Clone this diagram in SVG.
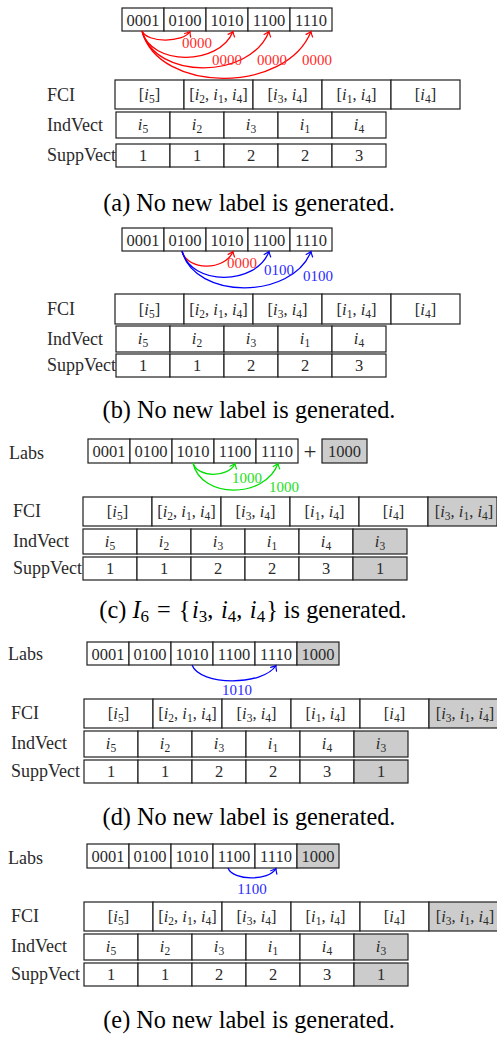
<svg xmlns="http://www.w3.org/2000/svg" width="497" height="1037" viewBox="0 0 497 1037">
<style>
  .cell { fill: #ffffff; stroke: #1e1e1e; stroke-width: 1.2; }
  .new { fill: #cccccc; }
  .t { font-family: "Liberation Serif", serif; font-size: 16.5px; fill: #2a2a2a; text-anchor: middle; }
  .plus { font-size: 23px; }
  .rl { font-family: "Liberation Serif", serif; font-size: 18px; fill: #2a2a2a; }
  .m { font-style: italic; }
  .s { font-size: 11.5px; }
  .cs { font-size: 17px; }
  .cap { font-family: "Liberation Serif", serif; font-size: 24.3px; fill: #000000; text-anchor: middle; }
  .arr { fill: none; stroke-width: 1.3; }
  .lab { font-family: "Liberation Serif", serif; font-size: 15px; text-anchor: middle; }
</style>
<defs>
  <marker id="ah-red" markerWidth="12" markerHeight="12" refX="0" refY="0" orient="auto" markerUnits="userSpaceOnUse" overflow="visible">
    <path d="M-4.5,-3.5 Q-1.5,-0.8 0,0 Q-1.5,0.8 -4.5,3.5" fill="none" stroke="#ff0000" stroke-width="1.2" stroke-linecap="round"/>
  </marker>
  <marker id="ah-blue" markerWidth="12" markerHeight="12" refX="0" refY="0" orient="auto" markerUnits="userSpaceOnUse" overflow="visible">
    <path d="M-4.5,-3.5 Q-1.5,-0.8 0,0 Q-1.5,0.8 -4.5,3.5" fill="none" stroke="#0000ff" stroke-width="1.2" stroke-linecap="round"/>
  </marker>
  <marker id="ah-green" markerWidth="12" markerHeight="12" refX="0" refY="0" orient="auto" markerUnits="userSpaceOnUse" overflow="visible">
    <path d="M-4.5,-3.5 Q-1.5,-0.8 0,0 Q-1.5,0.8 -4.5,3.5" fill="none" stroke="#00e000" stroke-width="1.2" stroke-linecap="round"/>
  </marker>
</defs>

<!-- ===== panel (a) ===== -->
<g id="panel-a">
  <g id="a-labs">
    <rect class="cell" x="122" y="8" width="42" height="23"/>
    <rect class="cell" x="164" y="8" width="42" height="23"/>
    <rect class="cell" x="206" y="8" width="42" height="23"/>
    <rect class="cell" x="248" y="8" width="42" height="23"/>
    <rect class="cell" x="290" y="8" width="42" height="23"/>
    <text class="t" x="143" y="25.5">0001</text>
    <text class="t" x="185" y="25.5">0100</text>
    <text class="t" x="227" y="25.5">1010</text>
    <text class="t" x="269" y="25.5">1100</text>
    <text class="t" x="311" y="25.5">1110</text>
  </g>
  <g id="a-fci">
    <text class="rl" x="47" y="101">FCI</text>
    <rect class="cell" x="115" y="80" width="69" height="29"/>
    <rect class="cell" x="184" y="80" width="69" height="29"/>
    <rect class="cell" x="253" y="80" width="69" height="29"/>
    <rect class="cell" x="322" y="80" width="69" height="29"/>
    <rect class="cell" x="391" y="80" width="69" height="29"/>
    <text class="t" x="149.5" y="100">[<tspan class="m">i</tspan><tspan class="s" dy="3">5</tspan><tspan dy="-3">]</tspan></text>
    <text class="t" x="218.5" y="100">[<tspan class="m">i</tspan><tspan class="s" dy="3">2</tspan><tspan dy="-3">, </tspan><tspan class="m">i</tspan><tspan class="s" dy="3">1</tspan><tspan dy="-3">, </tspan><tspan class="m">i</tspan><tspan class="s" dy="3">4</tspan><tspan dy="-3">]</tspan></text>
    <text class="t" x="287.5" y="100">[<tspan class="m">i</tspan><tspan class="s" dy="3">3</tspan><tspan dy="-3">, </tspan><tspan class="m">i</tspan><tspan class="s" dy="3">4</tspan><tspan dy="-3">]</tspan></text>
    <text class="t" x="356.5" y="100">[<tspan class="m">i</tspan><tspan class="s" dy="3">1</tspan><tspan dy="-3">, </tspan><tspan class="m">i</tspan><tspan class="s" dy="3">4</tspan><tspan dy="-3">]</tspan></text>
    <text class="t" x="425.5" y="100">[<tspan class="m">i</tspan><tspan class="s" dy="3">4</tspan><tspan dy="-3">]</tspan></text>
  </g>
  <g id="a-indvect">
    <text class="rl" x="47" y="131">IndVect</text>
    <rect class="cell" x="116" y="112" width="54" height="26"/>
    <rect class="cell" x="170" y="112" width="54" height="26"/>
    <rect class="cell" x="224" y="112" width="54" height="26"/>
    <rect class="cell" x="278" y="112" width="54" height="26"/>
    <rect class="cell" x="332" y="112" width="54" height="26"/>
    <text class="t" x="143" y="130"><tspan class="m">i</tspan><tspan class="s" dy="3">5</tspan></text>
    <text class="t" x="197" y="130"><tspan class="m">i</tspan><tspan class="s" dy="3">2</tspan></text>
    <text class="t" x="251" y="130"><tspan class="m">i</tspan><tspan class="s" dy="3">3</tspan></text>
    <text class="t" x="305" y="130"><tspan class="m">i</tspan><tspan class="s" dy="3">1</tspan></text>
    <text class="t" x="359" y="130"><tspan class="m">i</tspan><tspan class="s" dy="3">4</tspan></text>
  </g>
  <g id="a-suppvect">
    <text class="rl" x="47" y="161">SuppVect</text>
    <rect class="cell" x="116" y="144" width="54" height="23"/>
    <rect class="cell" x="170" y="144" width="54" height="23"/>
    <rect class="cell" x="224" y="144" width="54" height="23"/>
    <rect class="cell" x="278" y="144" width="54" height="23"/>
    <rect class="cell" x="332" y="144" width="54" height="23"/>
    <text class="t" x="143" y="161">1</text>
    <text class="t" x="197" y="161">1</text>
    <text class="t" x="251" y="161">2</text>
    <text class="t" x="305" y="161">2</text>
    <text class="t" x="359" y="161">3</text>
  </g>
  <text id="a-caption" class="cap" x="249" y="211">(a) No new label is generated.</text>
</g>

<!-- ===== panel (b) ===== -->
<g id="panel-b">
  <g id="b-labs">
    <rect class="cell" x="122" y="228" width="42" height="23"/>
    <rect class="cell" x="164" y="228" width="42" height="23"/>
    <rect class="cell" x="206" y="228" width="42" height="23"/>
    <rect class="cell" x="248" y="228" width="42" height="23"/>
    <rect class="cell" x="290" y="228" width="42" height="23"/>
    <text class="t" x="143" y="245.5">0001</text>
    <text class="t" x="185" y="245.5">0100</text>
    <text class="t" x="227" y="245.5">1010</text>
    <text class="t" x="269" y="245.5">1100</text>
    <text class="t" x="311" y="245.5">1110</text>
  </g>
  <g id="b-fci">
    <text class="rl" x="47" y="315">FCI</text>
    <rect class="cell" x="115" y="294" width="69" height="30"/>
    <rect class="cell" x="184" y="294" width="69" height="30"/>
    <rect class="cell" x="253" y="294" width="69" height="30"/>
    <rect class="cell" x="322" y="294" width="69" height="30"/>
    <rect class="cell" x="391" y="294" width="69" height="30"/>
    <text class="t" x="149.5" y="314.5">[<tspan class="m">i</tspan><tspan class="s" dy="3">5</tspan><tspan dy="-3">]</tspan></text>
    <text class="t" x="218.5" y="314.5">[<tspan class="m">i</tspan><tspan class="s" dy="3">2</tspan><tspan dy="-3">, </tspan><tspan class="m">i</tspan><tspan class="s" dy="3">1</tspan><tspan dy="-3">, </tspan><tspan class="m">i</tspan><tspan class="s" dy="3">4</tspan><tspan dy="-3">]</tspan></text>
    <text class="t" x="287.5" y="314.5">[<tspan class="m">i</tspan><tspan class="s" dy="3">3</tspan><tspan dy="-3">, </tspan><tspan class="m">i</tspan><tspan class="s" dy="3">4</tspan><tspan dy="-3">]</tspan></text>
    <text class="t" x="356.5" y="314.5">[<tspan class="m">i</tspan><tspan class="s" dy="3">1</tspan><tspan dy="-3">, </tspan><tspan class="m">i</tspan><tspan class="s" dy="3">4</tspan><tspan dy="-3">]</tspan></text>
    <text class="t" x="425.5" y="314.5">[<tspan class="m">i</tspan><tspan class="s" dy="3">4</tspan><tspan dy="-3">]</tspan></text>
  </g>
  <g id="b-indvect">
    <text class="rl" x="47" y="345">IndVect</text>
    <rect class="cell" x="116" y="326" width="54" height="26"/>
    <rect class="cell" x="170" y="326" width="54" height="26"/>
    <rect class="cell" x="224" y="326" width="54" height="26"/>
    <rect class="cell" x="278" y="326" width="54" height="26"/>
    <rect class="cell" x="332" y="326" width="54" height="26"/>
    <text class="t" x="143" y="344"><tspan class="m">i</tspan><tspan class="s" dy="3">5</tspan></text>
    <text class="t" x="197" y="344"><tspan class="m">i</tspan><tspan class="s" dy="3">2</tspan></text>
    <text class="t" x="251" y="344"><tspan class="m">i</tspan><tspan class="s" dy="3">3</tspan></text>
    <text class="t" x="305" y="344"><tspan class="m">i</tspan><tspan class="s" dy="3">1</tspan></text>
    <text class="t" x="359" y="344"><tspan class="m">i</tspan><tspan class="s" dy="3">4</tspan></text>
  </g>
  <g id="b-suppvect">
    <text class="rl" x="47" y="371">SuppVect</text>
    <rect class="cell" x="116" y="354" width="54" height="23"/>
    <rect class="cell" x="170" y="354" width="54" height="23"/>
    <rect class="cell" x="224" y="354" width="54" height="23"/>
    <rect class="cell" x="278" y="354" width="54" height="23"/>
    <rect class="cell" x="332" y="354" width="54" height="23"/>
    <text class="t" x="143" y="371">1</text>
    <text class="t" x="197" y="371">1</text>
    <text class="t" x="251" y="371">2</text>
    <text class="t" x="305" y="371">2</text>
    <text class="t" x="359" y="371">3</text>
  </g>
  <text id="b-caption" class="cap" x="249" y="418">(b) No new label is generated.</text>
</g>

<!-- ===== panel (c) ===== -->
<g id="panel-c">
  <g id="c-labs">
    <text class="rl" x="9" y="459">Labs</text>
    <rect class="cell" x="88" y="439" width="42" height="24"/>
    <rect class="cell" x="130" y="439" width="42" height="24"/>
    <rect class="cell" x="172" y="439" width="42" height="24"/>
    <rect class="cell" x="214" y="439" width="42" height="24"/>
    <rect class="cell" x="256" y="439" width="42" height="24"/>
    <text class="t" x="109" y="457">0001</text>
    <text class="t" x="151" y="457">0100</text>
    <text class="t" x="193" y="457">1010</text>
    <text class="t" x="235" y="457">1100</text>
    <text class="t" x="277" y="457">1110</text>
    <text class="t plus" x="310" y="459">+</text>
    <rect class="cell new" x="322" y="439" width="45" height="24"/>
    <text class="t" x="344.5" y="457">1000</text>
  </g>
  <g id="c-fci">
    <text class="rl" x="13" y="517">FCI</text>
    <rect class="cell" x="83" y="497" width="69" height="29"/>
    <rect class="cell" x="152" y="497" width="69" height="29"/>
    <rect class="cell" x="221" y="497" width="69" height="29"/>
    <rect class="cell" x="290" y="497" width="69" height="29"/>
    <rect class="cell" x="359" y="497" width="69" height="29"/>
    <rect class="cell new" x="428" y="497" width="69" height="29"/>
    <text class="t" x="117.5" y="517">[<tspan class="m">i</tspan><tspan class="s" dy="3">5</tspan><tspan dy="-3">]</tspan></text>
    <text class="t" x="186.5" y="517">[<tspan class="m">i</tspan><tspan class="s" dy="3">2</tspan><tspan dy="-3">, </tspan><tspan class="m">i</tspan><tspan class="s" dy="3">1</tspan><tspan dy="-3">, </tspan><tspan class="m">i</tspan><tspan class="s" dy="3">4</tspan><tspan dy="-3">]</tspan></text>
    <text class="t" x="255.5" y="517">[<tspan class="m">i</tspan><tspan class="s" dy="3">3</tspan><tspan dy="-3">, </tspan><tspan class="m">i</tspan><tspan class="s" dy="3">4</tspan><tspan dy="-3">]</tspan></text>
    <text class="t" x="324.5" y="517">[<tspan class="m">i</tspan><tspan class="s" dy="3">1</tspan><tspan dy="-3">, </tspan><tspan class="m">i</tspan><tspan class="s" dy="3">4</tspan><tspan dy="-3">]</tspan></text>
    <text class="t" x="393.5" y="517">[<tspan class="m">i</tspan><tspan class="s" dy="3">4</tspan><tspan dy="-3">]</tspan></text>
    <text class="t" x="464" y="517">[<tspan class="m">i</tspan><tspan class="s" dy="3">3</tspan><tspan dy="-3">, </tspan><tspan class="m">i</tspan><tspan class="s" dy="3">1</tspan><tspan dy="-3">, </tspan><tspan class="m">i</tspan><tspan class="s" dy="3">4</tspan><tspan dy="-3">]</tspan></text>
  </g>
  <g id="c-indvect">
    <text class="rl" x="13" y="547">IndVect</text>
    <rect class="cell" x="83" y="529" width="54" height="25"/>
    <rect class="cell" x="137" y="529" width="54" height="25"/>
    <rect class="cell" x="191" y="529" width="54" height="25"/>
    <rect class="cell" x="245" y="529" width="54" height="25"/>
    <rect class="cell" x="299" y="529" width="54" height="25"/>
    <rect class="cell new" x="353" y="529" width="54" height="25"/>
    <text class="t" x="110" y="546.5"><tspan class="m">i</tspan><tspan class="s" dy="3">5</tspan></text>
    <text class="t" x="164" y="546.5"><tspan class="m">i</tspan><tspan class="s" dy="3">2</tspan></text>
    <text class="t" x="218" y="546.5"><tspan class="m">i</tspan><tspan class="s" dy="3">3</tspan></text>
    <text class="t" x="272" y="546.5"><tspan class="m">i</tspan><tspan class="s" dy="3">1</tspan></text>
    <text class="t" x="326" y="546.5"><tspan class="m">i</tspan><tspan class="s" dy="3">4</tspan></text>
    <text class="t" x="380" y="546.5"><tspan class="m">i</tspan><tspan class="s" dy="3">3</tspan></text>
  </g>
  <g id="c-suppvect">
    <text class="rl" x="13" y="574">SuppVect</text>
    <rect class="cell" x="83" y="557" width="54" height="23"/>
    <rect class="cell" x="137" y="557" width="54" height="23"/>
    <rect class="cell" x="191" y="557" width="54" height="23"/>
    <rect class="cell" x="245" y="557" width="54" height="23"/>
    <rect class="cell" x="299" y="557" width="54" height="23"/>
    <rect class="cell new" x="353" y="557" width="54" height="23"/>
    <text class="t" x="110" y="574">1</text>
    <text class="t" x="164" y="574">1</text>
    <text class="t" x="218" y="574">2</text>
    <text class="t" x="272" y="574">2</text>
    <text class="t" x="326" y="574">3</text>
    <text class="t" x="380" y="574">1</text>
  </g>
  <text id="c-caption" class="cap" x="253" y="618">(c) <tspan class="m">I</tspan><tspan class="cs" dy="4">6</tspan><tspan dy="-4" dx="2"> = </tspan><tspan dx="2">{</tspan><tspan class="m" dx="1.5">i</tspan><tspan class="cs" dy="4">3</tspan><tspan dy="-4">, </tspan><tspan class="m" dx="1.5">i</tspan><tspan class="cs" dy="4">4</tspan><tspan dy="-4">, </tspan><tspan class="m" dx="1.5">i</tspan><tspan class="cs" dy="4">4</tspan><tspan dy="-4" dx="1">} is generated.</tspan></text>
</g>

<!-- ===== panel (d) ===== -->
<g id="panel-d">
  <g id="d-labs">
    <text class="rl" x="8" y="660">Labs</text>
    <rect class="cell" x="87" y="642" width="42" height="23"/>
    <rect class="cell" x="129" y="642" width="42" height="23"/>
    <rect class="cell" x="171" y="642" width="42" height="23"/>
    <rect class="cell" x="213" y="642" width="42" height="23"/>
    <rect class="cell" x="255" y="642" width="42" height="23"/>
    <rect class="cell new" x="297" y="642" width="42" height="23"/>
    <text class="t" x="108" y="659.5">0001</text>
    <text class="t" x="150" y="659.5">0100</text>
    <text class="t" x="192" y="659.5">1010</text>
    <text class="t" x="234" y="659.5">1100</text>
    <text class="t" x="276" y="659.5">1110</text>
    <text class="t" x="318" y="659.5">1000</text>
  </g>
  <g id="d-fci">
    <text class="rl" x="11" y="719">FCI</text>
    <rect class="cell" x="84" y="699" width="69" height="29"/>
    <rect class="cell" x="153" y="699" width="69" height="29"/>
    <rect class="cell" x="222" y="699" width="69" height="29"/>
    <rect class="cell" x="291" y="699" width="69" height="29"/>
    <rect class="cell" x="360" y="699" width="69" height="29"/>
    <rect class="cell new" x="429" y="699" width="69" height="29"/>
    <text class="t" x="118.5" y="719">[<tspan class="m">i</tspan><tspan class="s" dy="3">5</tspan><tspan dy="-3">]</tspan></text>
    <text class="t" x="187.5" y="719">[<tspan class="m">i</tspan><tspan class="s" dy="3">2</tspan><tspan dy="-3">, </tspan><tspan class="m">i</tspan><tspan class="s" dy="3">1</tspan><tspan dy="-3">, </tspan><tspan class="m">i</tspan><tspan class="s" dy="3">4</tspan><tspan dy="-3">]</tspan></text>
    <text class="t" x="256.5" y="719">[<tspan class="m">i</tspan><tspan class="s" dy="3">3</tspan><tspan dy="-3">, </tspan><tspan class="m">i</tspan><tspan class="s" dy="3">4</tspan><tspan dy="-3">]</tspan></text>
    <text class="t" x="325.5" y="719">[<tspan class="m">i</tspan><tspan class="s" dy="3">1</tspan><tspan dy="-3">, </tspan><tspan class="m">i</tspan><tspan class="s" dy="3">4</tspan><tspan dy="-3">]</tspan></text>
    <text class="t" x="394.5" y="719">[<tspan class="m">i</tspan><tspan class="s" dy="3">4</tspan><tspan dy="-3">]</tspan></text>
    <text class="t" x="465" y="719">[<tspan class="m">i</tspan><tspan class="s" dy="3">3</tspan><tspan dy="-3">, </tspan><tspan class="m">i</tspan><tspan class="s" dy="3">1</tspan><tspan dy="-3">, </tspan><tspan class="m">i</tspan><tspan class="s" dy="3">4</tspan><tspan dy="-3">]</tspan></text>
  </g>
  <g id="d-indvect">
    <text class="rl" x="11" y="749">IndVect</text>
    <rect class="cell" x="84" y="731" width="54" height="26"/>
    <rect class="cell" x="138" y="731" width="54" height="26"/>
    <rect class="cell" x="192" y="731" width="54" height="26"/>
    <rect class="cell" x="246" y="731" width="54" height="26"/>
    <rect class="cell" x="300" y="731" width="54" height="26"/>
    <rect class="cell new" x="354" y="731" width="54" height="26"/>
    <text class="t" x="111" y="749"><tspan class="m">i</tspan><tspan class="s" dy="3">5</tspan></text>
    <text class="t" x="165" y="749"><tspan class="m">i</tspan><tspan class="s" dy="3">2</tspan></text>
    <text class="t" x="219" y="749"><tspan class="m">i</tspan><tspan class="s" dy="3">3</tspan></text>
    <text class="t" x="273" y="749"><tspan class="m">i</tspan><tspan class="s" dy="3">1</tspan></text>
    <text class="t" x="327" y="749"><tspan class="m">i</tspan><tspan class="s" dy="3">4</tspan></text>
    <text class="t" x="381" y="749"><tspan class="m">i</tspan><tspan class="s" dy="3">3</tspan></text>
  </g>
  <g id="d-suppvect">
    <text class="rl" x="11" y="777">SuppVect</text>
    <rect class="cell" x="84" y="760" width="54" height="23"/>
    <rect class="cell" x="138" y="760" width="54" height="23"/>
    <rect class="cell" x="192" y="760" width="54" height="23"/>
    <rect class="cell" x="246" y="760" width="54" height="23"/>
    <rect class="cell" x="300" y="760" width="54" height="23"/>
    <rect class="cell new" x="354" y="760" width="54" height="23"/>
    <text class="t" x="111" y="777">1</text>
    <text class="t" x="165" y="777">1</text>
    <text class="t" x="219" y="777">2</text>
    <text class="t" x="273" y="777">2</text>
    <text class="t" x="327" y="777">3</text>
    <text class="t" x="381" y="777">1</text>
  </g>
  <text id="d-caption" class="cap" x="249" y="825">(d) No new label is generated.</text>
</g>

<!-- ===== panel (e) ===== -->
<g id="panel-e">
  <g id="e-labs">
    <text class="rl" x="8" y="864">Labs</text>
    <rect class="cell" x="87" y="844" width="42" height="24"/>
    <rect class="cell" x="129" y="844" width="42" height="24"/>
    <rect class="cell" x="171" y="844" width="42" height="24"/>
    <rect class="cell" x="213" y="844" width="42" height="24"/>
    <rect class="cell" x="255" y="844" width="42" height="24"/>
    <rect class="cell new" x="297" y="844" width="42" height="24"/>
    <text class="t" x="108" y="862">0001</text>
    <text class="t" x="150" y="862">0100</text>
    <text class="t" x="192" y="862">1010</text>
    <text class="t" x="234" y="862">1100</text>
    <text class="t" x="276" y="862">1110</text>
    <text class="t" x="318" y="862">1000</text>
  </g>
  <g id="e-fci">
    <text class="rl" x="11" y="922">FCI</text>
    <rect class="cell" x="84" y="902" width="69" height="29"/>
    <rect class="cell" x="153" y="902" width="69" height="29"/>
    <rect class="cell" x="222" y="902" width="69" height="29"/>
    <rect class="cell" x="291" y="902" width="69" height="29"/>
    <rect class="cell" x="360" y="902" width="69" height="29"/>
    <rect class="cell new" x="429" y="902" width="69" height="29"/>
    <text class="t" x="118.5" y="922">[<tspan class="m">i</tspan><tspan class="s" dy="3">5</tspan><tspan dy="-3">]</tspan></text>
    <text class="t" x="187.5" y="922">[<tspan class="m">i</tspan><tspan class="s" dy="3">2</tspan><tspan dy="-3">, </tspan><tspan class="m">i</tspan><tspan class="s" dy="3">1</tspan><tspan dy="-3">, </tspan><tspan class="m">i</tspan><tspan class="s" dy="3">4</tspan><tspan dy="-3">]</tspan></text>
    <text class="t" x="256.5" y="922">[<tspan class="m">i</tspan><tspan class="s" dy="3">3</tspan><tspan dy="-3">, </tspan><tspan class="m">i</tspan><tspan class="s" dy="3">4</tspan><tspan dy="-3">]</tspan></text>
    <text class="t" x="325.5" y="922">[<tspan class="m">i</tspan><tspan class="s" dy="3">1</tspan><tspan dy="-3">, </tspan><tspan class="m">i</tspan><tspan class="s" dy="3">4</tspan><tspan dy="-3">]</tspan></text>
    <text class="t" x="394.5" y="922">[<tspan class="m">i</tspan><tspan class="s" dy="3">4</tspan><tspan dy="-3">]</tspan></text>
    <text class="t" x="465" y="922">[<tspan class="m">i</tspan><tspan class="s" dy="3">3</tspan><tspan dy="-3">, </tspan><tspan class="m">i</tspan><tspan class="s" dy="3">1</tspan><tspan dy="-3">, </tspan><tspan class="m">i</tspan><tspan class="s" dy="3">4</tspan><tspan dy="-3">]</tspan></text>
  </g>
  <g id="e-indvect">
    <text class="rl" x="11" y="952">IndVect</text>
    <rect class="cell" x="84" y="934" width="54" height="26"/>
    <rect class="cell" x="138" y="934" width="54" height="26"/>
    <rect class="cell" x="192" y="934" width="54" height="26"/>
    <rect class="cell" x="246" y="934" width="54" height="26"/>
    <rect class="cell" x="300" y="934" width="54" height="26"/>
    <rect class="cell new" x="354" y="934" width="54" height="26"/>
    <text class="t" x="111" y="952"><tspan class="m">i</tspan><tspan class="s" dy="3">5</tspan></text>
    <text class="t" x="165" y="952"><tspan class="m">i</tspan><tspan class="s" dy="3">2</tspan></text>
    <text class="t" x="219" y="952"><tspan class="m">i</tspan><tspan class="s" dy="3">3</tspan></text>
    <text class="t" x="273" y="952"><tspan class="m">i</tspan><tspan class="s" dy="3">1</tspan></text>
    <text class="t" x="327" y="952"><tspan class="m">i</tspan><tspan class="s" dy="3">4</tspan></text>
    <text class="t" x="381" y="952"><tspan class="m">i</tspan><tspan class="s" dy="3">3</tspan></text>
  </g>
  <g id="e-suppvect">
    <text class="rl" x="11" y="980">SuppVect</text>
    <rect class="cell" x="84" y="963" width="54" height="23"/>
    <rect class="cell" x="138" y="963" width="54" height="23"/>
    <rect class="cell" x="192" y="963" width="54" height="23"/>
    <rect class="cell" x="246" y="963" width="54" height="23"/>
    <rect class="cell" x="300" y="963" width="54" height="23"/>
    <rect class="cell new" x="354" y="963" width="54" height="23"/>
    <text class="t" x="111" y="980">1</text>
    <text class="t" x="165" y="980">1</text>
    <text class="t" x="219" y="980">2</text>
    <text class="t" x="273" y="980">2</text>
    <text class="t" x="327" y="980">3</text>
    <text class="t" x="381" y="980">1</text>
  </g>
  <text id="e-caption" class="cap" x="249" y="1028">(e) No new label is generated.</text>
</g>

<!-- ===== connectors: label derivation arrows ===== -->
<g id="connectors">
  <!-- (a) from 0001 -->
  <path class="arr" stroke="#ff0000" marker-end="url(#ah-red)" d="M142,31 C147,43 183,43 190,31.5"/>
  <path class="arr" stroke="#ff0000" marker-end="url(#ah-red)" d="M142,31 C151,66 219,66 233,31.5"/>
  <path class="arr" stroke="#ff0000" marker-end="url(#ah-red)" d="M142,31 C155,80 250,80 269,31.5"/>
  <path class="arr" stroke="#ff0000" marker-end="url(#ah-red)" d="M142,31 C159,94 286,94 311,31.5"/>
  <text class="lab" fill="#ff2a2a" x="197" y="48">0000</text>
  <text class="lab" fill="#ff2a2a" x="227" y="65">0000</text>
  <text class="lab" fill="#ff2a2a" x="272" y="65">0000</text>
  <text class="lab" fill="#ff2a2a" x="317" y="65">0000</text>

  <!-- (b) from 0100 -->
  <path class="arr" stroke="#ff0000" marker-end="url(#ah-red)" d="M182,251 C187,271 225,271 233,251.5"/>
  <path class="arr" stroke="#0000ff" marker-end="url(#ah-blue)" d="M182,251 C191,286 256,286 269,251.5"/>
  <path class="arr" stroke="#0000ff" marker-end="url(#ah-blue)" d="M182,251 C195,300 292,300 311,251.5"/>
  <text class="lab" fill="#ff2a2a" x="242" y="268">0000</text>
  <text class="lab" fill="#2a2aff" x="279" y="275">0100</text>
  <text class="lab" fill="#2a2aff" x="318" y="281">0100</text>

  <!-- (c) from 1010 -->
  <path class="arr" stroke="#00e000" marker-end="url(#ah-green)" d="M193,463 C197,478 229,478 235,463.5"/>
  <path class="arr" stroke="#00e000" marker-end="url(#ah-green)" d="M193,463 C201,499 265,499 278,463.5"/>
  <text class="lab" fill="#22e022" x="247" y="483">1000</text>
  <text class="lab" fill="#22e022" x="284" y="492">1000</text>

  <!-- (d) from 1010 -->
  <path class="arr" stroke="#0000ff" marker-end="url(#ah-blue)" d="M192,665 C200,686 263,686 276,665.5"/>
  <text class="lab" fill="#2a2aff" x="237" y="695">1010</text>

  <!-- (e) from 1100 -->
  <path class="arr" stroke="#0000ff" marker-end="url(#ah-blue)" d="M228,868 C233,881 269,881 276,868.5"/>
  <text class="lab" fill="#2a2aff" x="252" y="894">1100</text>
</g>
</svg>
